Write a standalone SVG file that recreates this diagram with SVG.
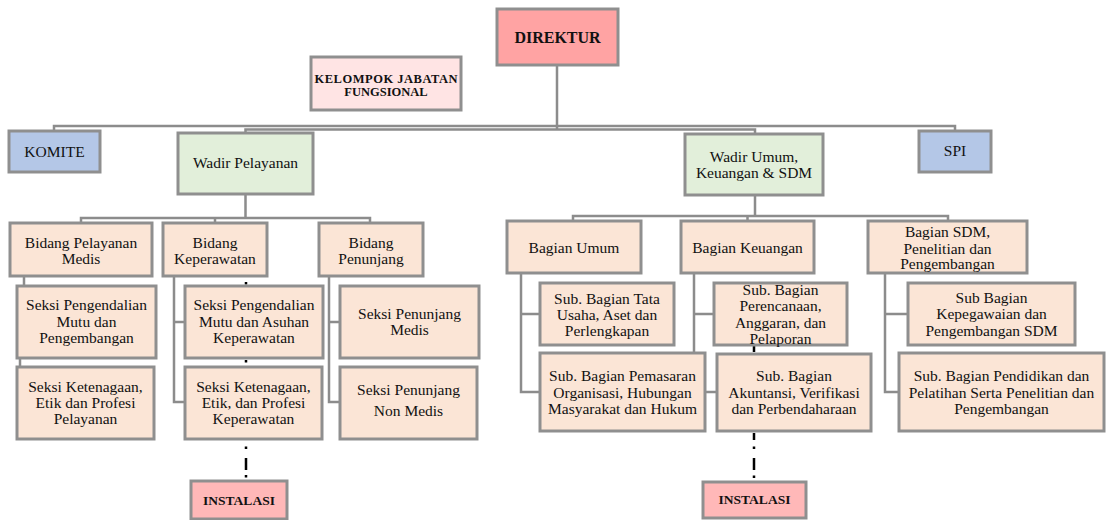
<svg xmlns="http://www.w3.org/2000/svg" width="1106" height="520" viewBox="0 0 1106 520">
<style>
.box{stroke:#8f8f8f;stroke-width:3}
.red{fill:#FFA3A3}.pink{fill:#FFE4E4}.blue{fill:#B4C7E7}.green{fill:#E2EFDA}.peach{fill:#FBE5D6}.inst{fill:#FFB8B8}
.t{font-family:"Liberation Serif","Times New Roman",serif;font-size:15.5px;text-anchor:middle;fill:#111}
.b{font-weight:bold;font-size:13.5px}
.k{font-weight:bold;font-size:12.5px}
.con{fill:none;stroke:#8c8c8c;stroke-width:2.5}
.dash{fill:none;stroke:#000;stroke-width:2.5}
</style>
<rect width="1106" height="520" fill="#fff"/>
<g id="connectors">
<path class="con" d="M557 65 V130 M54 131 V126 H955 V131 M245.5 133 V129.5 H755 V134"/>
<path class="con" d="M245.5 194 V218 M81 223 V218 H370 V223 M215 218 V223"/>
<path class="con" d="M24 276 V286 M20 358 V367 M174 276 V402 H185 M174 322 H185 M329 276 V402 H340 M329 322 H340"/>
<path class="con" d="M755 195 V216 M573 221 V216 H948 V221 M747.5 216 V221"/>
<path class="con" d="M521 273 V392 H540 M521 314 H540 M694 273 V353 M694 314 H714 M705 392 H717 M885 273 V392 H899 M885 314 H908"/>
<path class="dash" d="M246 282 V284.5 M246 360 V362.5 M246 446.5 V449 M246 458 V470 M246 475 V477.5"/>
<path class="dash" d="M754 346 V352 M754 433 V440 M754 446.5 V449 M754 458 V470 M754 475.5 V478"/>
</g>
<g id="direktur"><rect class="box red" x="497" y="9" width="121" height="56"/><text class="t b" style="font-size:16px" x="557.5" y="42.5">DIREKTUR</text></g>
<g id="kelompok"><rect class="box pink" x="311" y="57" width="150" height="53"/><text class="t k" x="386" y="82.5" textLength="143" lengthAdjust="spacing">KELOMPOK JABATAN</text><text class="t k" x="386" y="96">FUNGSIONAL</text></g>
<g id="komite"><rect class="box blue" x="9" y="131" width="91" height="41"/><text class="t" x="54.5" y="157">KOMITE</text></g>
<g id="wadir-pelayanan"><rect class="box green" x="178" y="133" width="135" height="61"/><text class="t" x="245.5" y="168">Wadir Pelayanan</text></g>
<g id="wadir-umum"><rect class="box green" x="685" y="134" width="138" height="61"/><text class="t" x="754" y="162">Wadir Umum,</text><text class="t" x="754" y="178">Keuangan &amp; SDM</text></g>
<g id="spi"><rect class="box blue" x="919" y="131" width="72" height="41"/><text class="t" x="955" y="156">SPI</text></g>
<g id="bidang-pelayanan-medis"><rect class="box peach" x="10" y="223" width="142" height="53"/><text class="t" x="81" y="248">Bidang Pelayanan</text><text class="t" x="81" y="263.5">Medis</text></g>
<g id="bidang-keperawatan"><rect class="box peach" x="163" y="223" width="104" height="53"/><text class="t" x="215" y="248">Bidang</text><text class="t" x="215" y="263.5">Keperawatan</text></g>
<g id="bidang-penunjang"><rect class="box peach" x="319" y="223" width="104" height="53"/><text class="t" x="371" y="248">Bidang</text><text class="t" x="371" y="263.5">Penunjang</text></g>
<g id="seksi-pmp"><rect class="box peach" x="17" y="286" width="139" height="72"/><text class="t" x="86.5" y="310.3">Seksi Pengendalian</text><text class="t" x="86.5" y="327">Mutu dan</text><text class="t" x="86.5" y="343">Pengembangan</text></g>
<g id="seksi-kep-pelayanan"><rect class="box peach" x="17" y="367" width="137" height="72"/><text class="t" x="85.5" y="392.3">Seksi Ketenagaan,</text><text class="t" x="85.5" y="408.3">Etik dan Profesi</text><text class="t" x="85.5" y="424.3">Pelayanan</text></g>
<g id="seksi-pmak"><rect class="box peach" x="185" y="286" width="138" height="72"/><text class="t" x="254" y="310.3">Seksi Pengendalian</text><text class="t" x="254" y="327">Mutu dan Asuhan</text><text class="t" x="254" y="343">Keperawatan</text></g>
<g id="seksi-kep-keperawatan"><rect class="box peach" x="185" y="367" width="137" height="72"/><text class="t" x="253.5" y="392.3">Seksi Ketenagaan,</text><text class="t" x="253.5" y="408.3">Etik, dan Profesi</text><text class="t" x="253.5" y="424.3">Keperawatan</text></g>
<g id="seksi-penunjang-medis"><rect class="box peach" x="340" y="286" width="139" height="72"/><text class="t" x="409.5" y="319.3">Seksi Penunjang</text><text class="t" x="409.5" y="335.3">Medis</text></g>
<g id="seksi-penunjang-non-medis"><rect class="box peach" x="340" y="367" width="137" height="72"/><text class="t" x="408.5" y="394.5">Seksi Penunjang</text><text class="t" x="408.5" y="416">Non Medis</text></g>
<g id="instalasi-1"><rect class="box inst" x="191" y="481" width="96" height="38"/><text class="t b" x="239" y="505">INSTALASI</text></g>
<g id="bagian-umum"><rect class="box peach" x="507" y="221" width="134" height="52"/><text class="t" x="574" y="253">Bagian Umum</text></g>
<g id="bagian-keuangan"><rect class="box peach" x="681" y="221" width="133" height="52"/><text class="t" x="747.5" y="253">Bagian Keuangan</text></g>
<g id="bagian-sdm"><rect class="box peach" x="868" y="221" width="159" height="52"/><text class="t" x="947.5" y="237">Bagian SDM,</text><text class="t" x="947.5" y="253.6">Penelitian dan</text><text class="t" x="947.5" y="269.3">Pengembangan</text></g>
<g id="sub-tata-usaha"><rect class="box peach" x="540" y="283" width="134" height="62"/><text class="t" x="607" y="303.6">Sub. Bagian Tata</text><text class="t" x="607" y="319.6">Usaha, Aset dan</text><text class="t" x="607" y="336.3">Perlengkapan</text></g>
<g id="sub-pemasaran"><rect class="box peach" x="540" y="353" width="165" height="78"/><text class="t" x="622.5" y="381">Sub. Bagian Pemasaran</text><text class="t" x="622.5" y="397.6">Organisasi, Hubungan</text><text class="t" x="622.5" y="413.6">Masyarakat dan Hukum</text></g>
<g id="sub-perencanaan"><rect class="box peach" x="714" y="283" width="133" height="62"/><text class="t" x="780.5" y="294.5">Sub. Bagian</text><text class="t" x="780.5" y="311">Perencanaan,</text><text class="t" x="780.5" y="327.5">Anggaran, dan</text><text class="t" x="780.5" y="344">Pelaporan</text></g>
<g id="sub-akuntansi"><rect class="box peach" x="717" y="354" width="154" height="77"/><text class="t" x="794" y="381">Sub. Bagian</text><text class="t" x="794" y="398">Akuntansi, Verifikasi</text><text class="t" x="794" y="414.3">dan Perbendaharaan</text></g>
<g id="instalasi-2"><rect class="box inst" x="703" y="482" width="103" height="36"/><text class="t b" x="754.5" y="503.6">INSTALASI</text></g>
<g id="sub-kepegawaian"><rect class="box peach" x="908" y="283" width="167" height="62"/><text class="t" x="991.5" y="303.3">Sub Bagian</text><text class="t" x="991.5" y="319.3">Kepegawaian dan</text><text class="t" x="991.5" y="336.3">Pengembangan SDM</text></g>
<g id="sub-pendidikan"><rect class="box peach" x="899" y="353" width="205" height="78"/><text class="t" x="1001.5" y="381">Sub. Bagian Pendidikan dan</text><text class="t" x="1001.5" y="397.6">Pelatihan Serta Penelitian dan</text><text class="t" x="1001.5" y="413.6">Pengembangan</text></g>
</svg>
